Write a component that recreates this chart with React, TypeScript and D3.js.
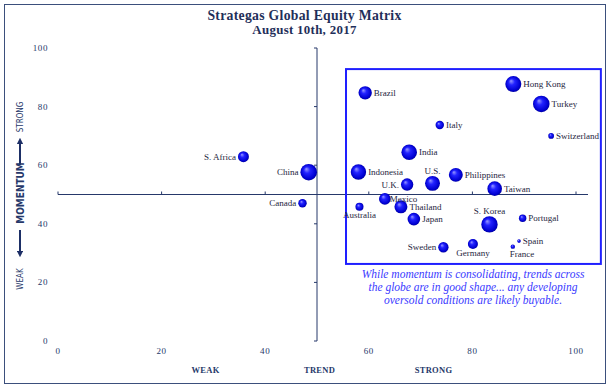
import React from 'react'
import * as d3 from 'd3'

// values
const countries = [
  'Hong Kong', 'Brazil', 'Turkey', 'Italy', 'Switzerland', 'India', 'Indonesia', 'Philippines',
  'U.S.', 'U.K.', 'Taiwan', 'China', 'S. Africa', 'Canada', 'Mexico', 'Australia',
  'Thailand', 'Japan', 'S. Korea', 'Portugal', 'Spain', 'France', 'Sweden', 'Germany',
]
const trend = [
  87.9, 59.3, 93.3, 73.7, 95.2, 67.8, 58.0, 76.8,
  72.3, 67.4, 84.3, 48.4, 35.8, 47.2, 63.1, 58.2,
  66.2, 68.7, 83.3, 89.7, 89.0, 87.8, 74.4, 80.1,
]
const momentum = [
  87.7, 84.7, 80.9, 73.7, 70.0, 64.4, 57.7, 56.7,
  53.8, 53.4, 52.0, 57.6, 62.9, 47.0, 48.5, 45.8,
  45.8, 41.6, 39.8, 41.9, 34.1, 32.2, 32.0, 33.1,
]
const bubbleSize = [
  79, 55, 85, 22, 10, 75, 73, 60,
  69, 47, 66, 85, 37, 22, 42, 20,
  52, 49, 83, 17, 4, 6, 33, 31,
]
const axisTicks = [0, 20, 40, 60, 80, 100]
const trendLabels = ['WEAK', 'TREND', 'STRONG']
const noteLines = [
  'While momentum is consolidating, trends across',
  'the globe are in good shape... any developing',
  'oversold conditions are likely buyable.',
]

// where each country's label sits relative to its bubble
const labelSide: Record<string, string> = {
  'S. Africa': 'left', China: 'left', Canada: 'left', 'U.K.': 'left', Sweden: 'left',
  'U.S.': 'top', 'S. Korea': 'top',
  Australia: 'bottom', Germany: 'bottom', France: 'bottomRight',
}

const W = 611
const H = 389
const navy = '#26386a'
const serif = '"Liberation Serif", "DejaVu Serif", serif'
const narrow = '"Liberation Sans Narrow", "DejaVu Sans Condensed", "Liberation Sans", sans-serif'

export default function App() {
  const x = d3.scaleLinear().domain([0, 100]).range([58, 576])
  const y = d3.scaleLinear().domain([0, 100]).range([341, 48])
  const r = d3.scaleSqrt().domain([0, 100]).range([0, 9])

  const points = countries.map((name, i) => ({
    name,
    cx: x(trend[i]),
    cy: y(momentum[i]),
    r: r(bubbleSize[i]),
  }))

  const labelProps = (p: { name: string; cx: number; cy: number; r: number }) => {
    const side = labelSide[p.name] || 'right'
    if (side === 'left') return { x: p.cx - p.r - 2, y: p.cy + 3, anchor: 'end' }
    if (side === 'top') return { x: p.cx, y: p.cy - p.r - 2, anchor: 'middle' }
    if (side === 'bottom') return { x: p.cx, y: p.cy + p.r + 7, anchor: 'middle' }
    if (side === 'bottomRight') return { x: p.cx - 3, y: p.cy + p.r + 8, anchor: 'start' }
    const dx = p.name === 'Mexico' ? -1 : 2
    return { x: p.cx + p.r + dx, y: p.cy + 3, anchor: 'start' }
  }

  const axisY = y(50)
  const axisX = x(50)

  return (
    <svg width={W} height={H} style={{ position: 'absolute', left: 0, top: 0, background: '#fff' }}>
      <defs>
        <radialGradient id="ball" cx="50%" cy="50%" r="55%" fx="35%" fy="30%">
          <stop offset="0%" stopColor="#9a9aff" />
          <stop offset="35%" stopColor="#2222ff" />
          <stop offset="80%" stopColor="#0000d0" />
          <stop offset="100%" stopColor="#00008c" />
        </radialGradient>
        <marker id="arrow" viewBox="0 0 10 10" refX="5" refY="5" markerWidth="3.2" markerHeight="3.2" orient="auto">
          <path d="M0,0 L10,5 L0,10 z" fill="#1d2f66" />
        </marker>
      </defs>

      <rect x={4.5} y={4.5} width={601} height={379} fill="none" stroke="#3b4f7c" strokeWidth={1} />

      <text x={304.5} y={20} textAnchor="middle" fontFamily={serif} fontWeight="bold" fontSize={13.7} fill="#1f2f5a" letterSpacing={0.3}>
        Strategas Global Equity Matrix
      </text>
      <text x={304.5} y={34} textAnchor="middle" fontFamily={serif} fontWeight="bold" fontSize={12.9} fill="#1f2f5a" letterSpacing={0.3}>
        August 10th, 2017
      </text>

      {/* vertical axis at trend = 50 */}
      <line x1={axisX} x2={axisX} y1={y(0)} y2={y(100)} stroke={navy} strokeWidth={1} />
      {axisTicks.map(t => (
        <line key={'yt' + t} x1={axisX - 3} x2={axisX} y1={y(t)} y2={y(t)} stroke={navy} />
      ))}
      {/* horizontal axis at momentum = 50 */}
      <line x1={x(0)} x2={x(100) + 12} y1={axisY} y2={axisY} stroke={navy} strokeWidth={1} />
      {axisTicks.map(t => (
        <line key={'xt' + t} x1={x(t)} x2={x(t)} y1={axisY - 3} y2={axisY} stroke={navy} />
      ))}

      {axisTicks.map(t => (
        <text key={'yl' + t} x={48} y={y(t) + 3} textAnchor="end" fontFamily={serif} fontSize={9} fill={navy} letterSpacing={0.6}>
          {t}
        </text>
      ))}
      {axisTicks.map(t => (
        <text key={'xl' + t} x={x(t)} y={354} textAnchor="middle" fontFamily={serif} fontSize={9} fill={navy} letterSpacing={0.6}>
          {t}
        </text>
      ))}

      {trendLabels.map((s, i) => (
        <text key={s} x={x(28.5 + i * 22)} y={373} textAnchor="middle" fontFamily={serif} fontWeight="bold" fontSize={8.5} fill={navy} letterSpacing={0.3}>
          {s}
        </text>
      ))}

      {/* momentum title on the left */}
      <g transform="translate(23,117) rotate(-90)">
        <text textAnchor="middle" fontFamily={narrow} fontSize={8} fill={navy}>STRONG</text>
      </g>
      <line x1={20} x2={20} y1={165} y2={141} stroke="#1d2f66" strokeWidth={2} markerEnd="url(#arrow)" />
      <g transform="translate(23.5,193) rotate(-90)">
        <text textAnchor="middle" fontFamily={narrow} fontWeight="bold" fontSize={10} fill={navy}>MOMENTUM</text>
      </g>
      <line x1={20} x2={20} y1={230} y2={254} stroke="#1d2f66" strokeWidth={2} markerEnd="url(#arrow)" />
      <g transform="translate(23,279) rotate(-90)">
        <text textAnchor="middle" fontFamily={narrow} fontSize={8} fill={navy}>WEAK</text>
      </g>

      {/* highlighted region */}
      <rect x={x(55.6)} y={y(92.8)} width={x(104.8) - x(55.6)} height={y(26.3) - y(92.8)} fill="none" stroke="#1f1fff" strokeWidth={2} />

      {points.map(p => (
        <circle key={p.name} cx={p.cx} cy={p.cy} r={p.r} fill="url(#ball)" />
      ))}
      {points.map(p => {
        const l = labelProps(p)
        return (
          <text key={'lab' + p.name} x={l.x} y={l.y} textAnchor={l.anchor} fontFamily={serif} fontSize={9} fill="#1e2540">
            {p.name}
          </text>
        )
      })}

      {noteLines.map((s, i) => (
        <text key={i} x={473} y={278 + i * 13} textAnchor="middle" fontFamily={serif} fontStyle="italic" fontSize={11.5} fill="#3a3aff">
          {s}
        </text>
      ))}
    </svg>
  )
}
